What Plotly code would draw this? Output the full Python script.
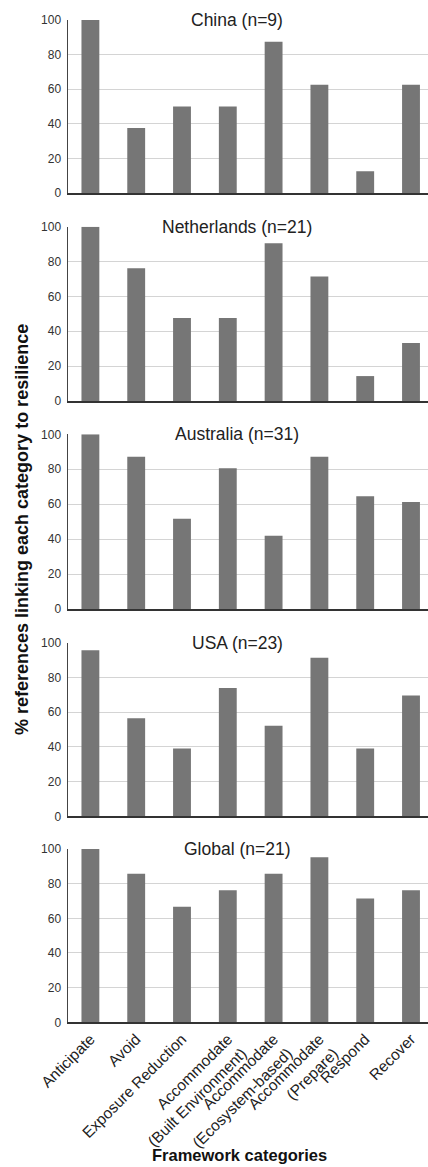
import plotly.graph_objects as go

categories = ["Anticipate", "Avoid", "Exposure Reduction",
              "Accommodate<br>(Built Environment)", "Accommodate<br>(Ecosystem-based)",
              "Accommodate<br>(Prepare)", "Respond", "Recover"]

panel_titles = ["China (n=9)", "Netherlands (n=21)", "Australia (n=31)", "USA (n=23)", "Global (n=21)"]

china = [100, 37.5, 50, 50, 87.5, 62.5, 12.5, 62.5]
netherlands = [100, 76.2, 47.6, 47.6, 90.5, 71.4, 14.3, 33.3]
australia = [100, 87.1, 51.6, 80.6, 41.9, 87.1, 64.5, 61.3]
usa = [95.7, 56.5, 39.1, 73.9, 52.2, 91.3, 39.1, 69.6]
global_ = [100, 85.7, 66.7, 76.2, 85.7, 95.2, 71.4, 76.2]

series = [china, netherlands, australia, usa, global_]

y_ticks = [0, 20, 40, 60, 80, 100]

W, H = 428, 1167
# pixel rows (top = 100 line, bottom = 0 line) for each panel
panel_px = [(20, 193), (226.7, 401), (434.3, 609), (642.7, 816.3), (849, 1022.3)]
x_left_px = 67.5

FONT = "Liberation Sans, Arial, sans-serif"
BAR = "#767676"

fig = go.Figure()
layout = dict(
    width=W, height=H,
    margin=dict(l=0, r=0, t=0, b=0, autoexpand=False),
    paper_bgcolor="white", plot_bgcolor="white",
    showlegend=False,
    font=dict(family=FONT, color="#333333", size=12),
)
annotations = []
for i, (vals, title) in enumerate(zip(series, panel_titles)):
    n = i + 1
    xa = "x" if n == 1 else f"x{n}"
    ya = "y" if n == 1 else f"y{n}"
    fig.add_trace(go.Bar(x=list(range(len(categories))), y=vals, marker=dict(color=BAR, line=dict(width=0)),
                         xaxis=xa, yaxis=ya, width=0.39, hoverinfo="skip"))
    top, bot = panel_px[i]
    dom = [1 - bot / H, 1 - top / H]
    last = (n == 5)
    layout[f"xaxis{'' if n == 1 else n}"] = dict(
        domain=[x_left_px / W, 1], anchor=ya, automargin=False,
        range=[-0.5, -0.5 + (W - x_left_px) / 45.8],
        tickmode="array", tickvals=list(range(len(categories))),
        ticktext=categories if last else [""] * len(categories),
        showticklabels=last, tickangle=-45,
        tickfont=dict(size=15.5, color="#222222", family=FONT),
        showline=True, linecolor="#333333", linewidth=1.5,
        showgrid=False, zeroline=False, ticks="", fixedrange=True,
    )
    layout[f"yaxis{'' if n == 1 else n}"] = dict(
        domain=dom, anchor=xa, range=[0, 100], automargin=False,
        tickmode="array", tickvals=y_ticks,
        tickfont=dict(size=12, color="#333333", family=FONT),
        showline=True, linecolor="#444444", linewidth=1,
        showgrid=True, gridcolor="#d4d4d4", gridwidth=1,
        zeroline=False, ticks="outside", ticklen=3, tickcolor="white", fixedrange=True,
    )
    annotations.append(dict(
        text=title, xref="paper", yref=ya, x=237 / W, y=100, xanchor="center", yanchor="middle",
        showarrow=False, bgcolor="white", borderpad=2,
        font=dict(size=17.5, color="#222222", family=FONT),
    ))

annotations.append(dict(
    text="<b>% references linking each category to resilience</b>", xref="paper", yref="paper",
    x=22 / W, y=1 - 530 / H, textangle=-90, showarrow=False, xanchor="center", yanchor="middle",
    font=dict(size=18, color="#111111", family=FONT),
))
annotations.append(dict(
    text="<b>Framework categories</b>", xref="paper", yref="paper",
    x=240 / W, y=1 - 1155 / H, showarrow=False, xanchor="center", yanchor="middle",
    font=dict(size=16.5, color="#111111", family=FONT),
))
layout["annotations"] = annotations
fig.update_layout(**layout)
fig.write_html("out.html", config={"displayModeBar": False},
               post_script="document.body.style.margin='0';document.body.style.overflow='hidden';")
